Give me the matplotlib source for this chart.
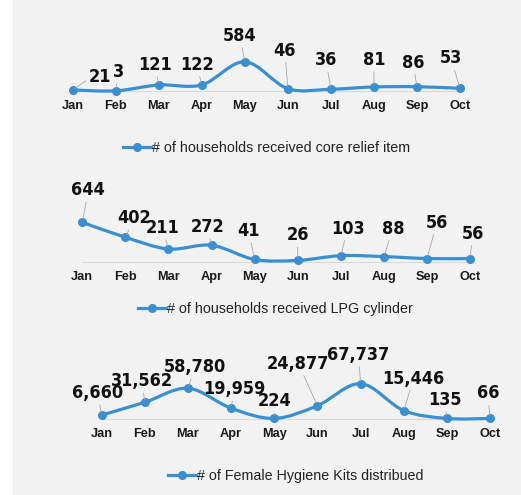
import matplotlib
matplotlib.use("Agg")
import matplotlib.pyplot as plt
from matplotlib import font_manager as fm
from matplotlib.path import Path
from matplotlib.patches import PathPatch, Rectangle
from matplotlib.lines import Line2D

# data
months = ["Jan", "Feb", "Mar", "Apr", "May", "Jun", "Jul", "Aug", "Sep", "Oct"]
core_relief = [21, 3, 121, 122, 584, 46, 36, 81, 86, 53]
lpg_cylinder = [644, 402, 211, 272, 41, 26, 103, 88, 56, 56]
hygiene_kits = [6660, 31562, 58780, 19959, 224, 24877, 67737, 15446, 135, 66]

series_names = ["# of households received core relief item",
                "# of households received LPG cylinder",
                "# of Female Hygiene Kits distribued"]

# label offsets from each point, in pixels (dx, dy)
off1 = [(27, 13), (3, 19), (-4, 20), (-5, 20), (-5, 26), (-3, 38), (-5, 29), (0, 27), (-4, 24), (-9, 30)]
off2 = [(6, 32), (9, 19), (-6, 21), (-4, 18), (-6, 28), (0, 25), (7, 27), (9, 28), (10, 36), (3, 25)]
off3 = [(-4, 22), (-3, 21), (7, 21), (3, 19), (0, 17), (-19, 42), (-2, 29), (10, 32), (-2, 18), (-2, 25)]

W, H = 521, 495
blue = "#3a8fd1"
bg = "#f2f2f2"
plt.rcParams["font.family"] = ["Liberation Sans", "DejaVu Sans"]

# data labels use a narrow bold face if one is installed
narrow = [f for f in fm.fontManager.ttflist
          if ("Cond" in f.fname or "Narrow" in f.fname
              or f.stretch in ("condensed", "semi-condensed"))
          and "Italic" not in f.fname and "Oblique" not in f.fname]
narrow.sort(key=lambda f: 0 if "Bold" in f.fname else 1)
if narrow:
    label_prop = fm.FontProperties(fname=narrow[0].fname, size=13)
else:
    label_prop = fm.FontProperties(family="Roboto", weight="bold", size=11.6)

fig = plt.figure(figsize=(W / 100, H / 100), dpi=100)
fig.patch.set_facecolor("white")
fig.add_artist(Rectangle((12 / W, 0), 1, 1, transform=fig.transFigure,
                         facecolor=bg, edgecolor="none", zorder=0))


def smooth_path(xs, ys):
    # cubic bezier through the points, like excel's smoothed line
    n = len(xs)
    verts = [(xs[0], ys[0])]
    codes = [Path.MOVETO]
    for i in range(n - 1):
        a = max(i - 1, 0)
        b = min(i + 2, n - 1)
        c1 = (xs[i] + (xs[i + 1] - xs[a]) / 6, ys[i] + (ys[i + 1] - ys[a]) / 6)
        c2 = (xs[i + 1] - (xs[b] - xs[i]) / 6, ys[i + 1] - (ys[b] - ys[i]) / 6)
        verts += [c1, c2, (xs[i + 1], ys[i + 1])]
        codes += [Path.CURVE4] * 3
    return Path(verts, codes)


def draw_chart(values, offsets, name, left, right, base, top, ymax, leg_x, leg_y):
    ax = fig.add_axes([left / W, 1 - base / H, (right - left) / W, (base - top) / H])
    ax.set_facecolor("none")
    xs = list(range(len(values)))
    ax.set_xlim(0, len(values) - 1)
    ax.set_ylim(0, ymax)
    for s in ["top", "left", "right"]:
        ax.spines[s].set_visible(False)
    ax.spines["bottom"].set_color("#d9d9d9")
    ax.spines["bottom"].set_linewidth(0.8)
    ax.set_yticks([])
    ax.set_xticks(xs)
    ax.set_xticklabels(months, fontsize=9.2, fontweight="bold", color="#1a1a1a")
    ax.tick_params(axis="x", length=0, pad=6.5)

    patch = PathPatch(smooth_path(xs, values), facecolor="none", edgecolor=blue,
                      lw=2.3, capstyle="round", joinstyle="round", clip_on=False, zorder=3)
    ax.add_patch(patch)
    ax.plot(xs, values, "o", color=blue, ms=5.5, clip_on=False, zorder=4)

    for x, v, (dx, dy) in zip(xs, values, offsets):
        arrow = dict(arrowstyle="-", color="#a6a6a6", lw=0.6, shrinkA=0, shrinkB=2)
        if dx > 20:
            # label pushed sideways: elbow leader like the original
            arrow.update(relpos=(0, 0.5), connectionstyle="angle,angleA=0,angleB=35")
        ax.annotate(f"{v:,}", xy=(x, v), xytext=(dx, dy), textcoords="offset pixels",
                    ha="center", va="center", fontproperties=label_prop,
                    color="#111111", zorder=5, arrowprops=arrow)

    handle = Line2D([], [], color=blue, lw=2.3, marker="o", ms=5.5)
    fig.legend([handle], [name], loc="center left",
               bbox_to_anchor=(leg_x / W, 1 - leg_y / H), frameon=False,
               borderpad=0, borderaxespad=0, handlelength=1.93, handletextpad=0.1,
               numpoints=1, prop={"size": 10.3}, labelcolor="#222222")
    return ax


draw_chart(core_relief, off1, series_names[0], 72.7, 460, 91, 61, 600, 123, 148.3)
draw_chart(lpg_cylinder, off2, series_names[1], 82.3, 470, 262, 222, 650, 138, 309.3)
draw_chart(hygiene_kits, off3, series_names[2], 101.7, 490, 418.5, 382.5, 70000, 168, 476)

fig.savefig("out.png", dpi=100, facecolor=fig.get_facecolor())
